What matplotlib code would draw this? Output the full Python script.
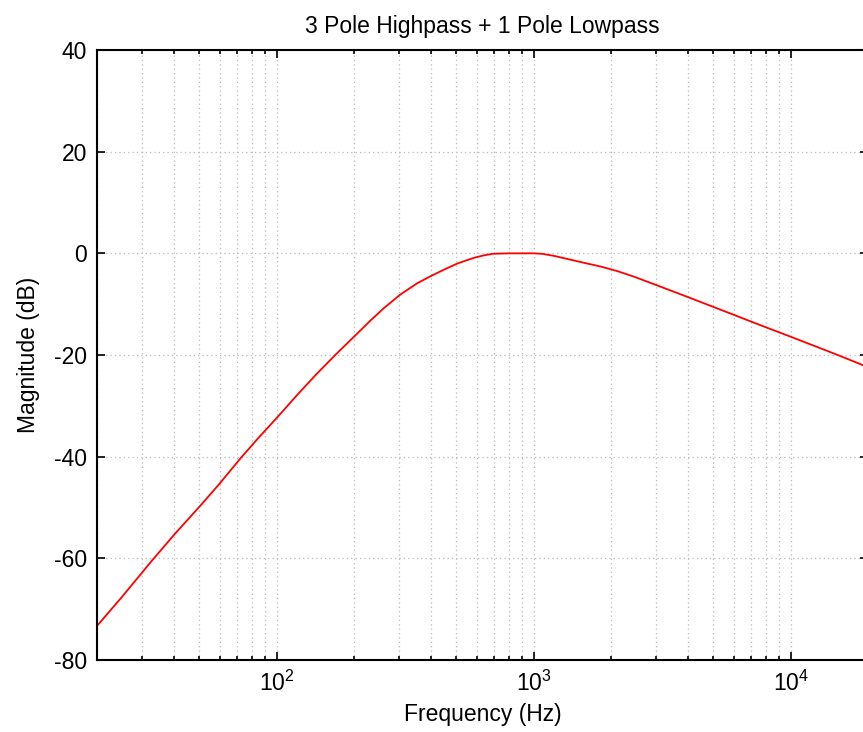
import matplotlib
matplotlib.use('Agg')
import matplotlib.pyplot as plt
import matplotlib.ticker as ticker
import numpy as np

plt.rcParams['font.family'] = ['Liberation Sans', 'DejaVu Sans']
plt.rcParams['mathtext.default'] = 'regular'
plt.rcParams['axes.unicode_minus'] = False

# values
freq_hz = [20, 25, 32.4, 40, 51.4, 60, 72.4, 85.3, 100, 120, 142, 169, 200,
           232, 261, 303, 352, 397, 448, 505, 550, 594, 640, 690, 800, 1000,
           1080, 1200, 1352, 1550, 1824, 2118, 2460, 2985, 3981, 6012, 7870,
           10000, 14730, 20000]
mag_db = [-73.3, -67.6, -60.7, -55.3, -49.2, -45.3, -40.3, -36.2, -32.4,
          -27.9, -23.9, -20.0, -16.4, -13.2, -10.8, -8.1, -5.9, -4.5, -3.2,
          -2.0, -1.35, -0.8, -0.4, -0.1, 0.0, 0.0, -0.1, -0.5, -1.1, -1.8,
          -2.6, -3.5, -4.6, -6.2, -8.6, -12.1, -14.4, -16.4, -19.7, -22.4]

fig = plt.figure(figsize=(8.63, 7.32), dpi=100)
ax = fig.add_axes([97 / 863, 72 / 732, 771 / 863, 610 / 732])

ax.semilogx(freq_hz, mag_db, color='red', linewidth=1.3)

ax.set_xlim(20, 20000)
ax.set_ylim(-80, 40)
ax.set_yticks([-80, -60, -40, -20, 0, 20, 40])
ax.xaxis.set_major_locator(ticker.LogLocator(base=10, numticks=10))
ax.xaxis.set_minor_locator(ticker.LogLocator(base=10, subs=np.arange(2, 10), numticks=20))
ax.xaxis.set_minor_formatter(ticker.NullFormatter())

ax.grid(True, which='major', axis='both', linestyle=(0, (1, 2.5)), color='#b8b8b8', linewidth=0.9)
ax.grid(True, which='minor', axis='x', linestyle=(0, (1, 2.5)), color='#b8b8b8', linewidth=0.9)

ax.tick_params(which='both', direction='in', top=True, right=True, labelsize=16.5, width=1.2)
ax.tick_params(which='major', length=6)
ax.tick_params(which='minor', length=3)
ax.tick_params(axis='y', pad=7)
ax.tick_params(axis='x', pad=8)
for s in ax.spines.values():
    s.set_linewidth(1.5)

ax.set_title('3 Pole Highpass + 1 Pole Lowpass', fontsize=16.5, pad=12)
ax.set_xlabel('Frequency (Hz)', fontsize=16.5, labelpad=5)
ax.set_ylabel('Magnitude (dB)', fontsize=16.5, labelpad=10)

fig.savefig('out.png', dpi=100)
